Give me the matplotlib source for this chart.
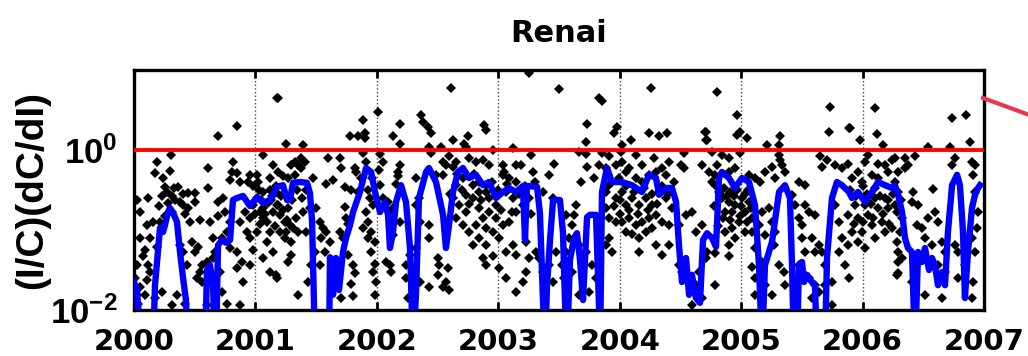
import numpy as np
import matplotlib
matplotlib.use('Agg')
import matplotlib.pyplot as plt
from matplotlib.lines import Line2D
from matplotlib.ticker import NullLocator

station = 'Renai'
years = list(range(2000, 2008))
threshold = 1.0

# smoothed curve: (decimal year, log10 value); -2.5 means below the axis floor
blue_trace = [
    (2000.000, -1.65), (2000.025, -1.75), (2000.058, -2.5), (2000.156, -2.5), (2000.173, -1.69),
    (2000.198, -1.25), (2000.214, -0.975), (2000.239, -1.025), (2000.255, -0.94), (2000.280, -0.775),
    (2000.296, -0.725), (2000.329, -0.81), (2000.354, -0.90), (2000.379, -1.275), (2000.404, -1.60),
    (2000.428, -1.875), (2000.445, -2.5),
    (2000.585, -2.5), (2000.601, -1.50), (2000.626, -1.44), (2000.651, -1.69), (2000.667, -2.5),
    (2000.675, -2.5), (2000.692, -1.19), (2000.725, -1.125), (2000.758, -1.16), (2000.791, -1.125),
    (2000.815, -0.625), (2000.848, -0.60), (2000.898, -0.575), (2000.955, -0.70),
    (2001.013, -0.59), (2001.062, -0.66), (2001.120, -0.625), (2001.178, -0.46), (2001.227, -0.44),
    (2001.260, -0.625), (2001.285, -0.625), (2001.309, -0.41), (2001.367, -0.40), (2001.425, -0.41),
    (2001.449, -0.54), (2001.466, -0.875), (2001.474, -1.375), (2001.491, -2.5),
    (2001.606, -2.5), (2001.614, -1.34), (2001.639, -1.81), (2001.663, -1.35), (2001.688, -1.75),
    (2001.721, -1.275), (2001.746, -1.10), (2001.779, -0.94), (2001.804, -0.775), (2001.861, -0.525),
    (2001.911, -0.225), (2001.952, -0.275), (2001.985, -0.525),
    (2002.026, -0.775), (2002.067, -0.65), (2002.092, -0.81), (2002.108, -1.225), (2002.133, -1.025),
    (2002.158, -0.65), (2002.199, -0.44), (2002.240, -0.65), (2002.273, -1.225), (2002.298, -2.5),
    (2002.322, -1.81), (2002.347, -0.60), (2002.405, -0.275), (2002.429, -0.225), (2002.487, -0.40),
    (2002.545, -0.81), (2002.569, -1.225), (2002.594, -0.94), (2002.627, -0.525), (2002.668, -0.275),
    (2002.709, -0.225), (2002.759, -0.35), (2002.816, -0.31), (2002.874, -0.44), (2002.924, -0.40),
    (2002.981, -0.60),
    (2003.039, -0.525), (2003.088, -0.475), (2003.146, -0.525), (2003.203, -0.45), (2003.220, -1.125),
    (2003.236, -0.45), (2003.319, -0.46), (2003.343, -0.79), (2003.368, -1.875), (2003.385, -2.5),
    (2003.401, -1.71), (2003.426, -1.125), (2003.451, -0.625), (2003.508, -0.625), (2003.533, -1.04),
    (2003.549, -1.875), (2003.566, -2.5), (2003.590, -1.375), (2003.624, -1.10), (2003.648, -1.04),
    (2003.673, -1.375), (2003.698, -1.875), (2003.731, -0.84), (2003.755, -0.81), (2003.805, -0.81),
    (2003.829, -1.94), (2003.838, -2.5), (2003.854, -0.525), (2003.895, -0.225), (2003.936, -0.40),
    (2004.019, -0.40), (2004.101, -0.44), (2004.183, -0.525), (2004.241, -0.31), (2004.299, -0.35),
    (2004.324, -0.56), (2004.381, -0.475), (2004.431, -0.475), (2004.464, -0.65), (2004.488, -1.19),
    (2004.513, -1.65), (2004.546, -1.35), (2004.571, -1.81), (2004.595, -1.56), (2004.628, -1.85),
    (2004.661, -1.91), (2004.686, -1.125), (2004.719, -1.04), (2004.760, -1.10), (2004.793, -1.21),
    (2004.818, -0.35), (2004.842, -0.275), (2004.900, -0.35), (2004.949, -0.475),
    (2005.007, -0.35), (2005.065, -0.40), (2005.114, -0.69), (2005.147, -1.44), (2005.172, -2.5),
    (2005.196, -1.44), (2005.254, -1.15), (2005.312, -0.525), (2005.361, -0.44), (2005.402, -0.60),
    (2005.419, -1.44), (2005.435, -2.5), (2005.460, -2.5), (2005.476, -1.44), (2005.501, -1.40),
    (2005.518, -1.65), (2005.542, -1.56), (2005.583, -1.65), (2005.608, -1.69), (2005.625, -2.5),
    (2005.690, -2.5), (2005.707, -1.35), (2005.748, -0.60), (2005.789, -0.40), (2005.830, -0.44),
    (2005.888, -0.525), (2005.913, -0.60), (2005.962, -0.525),
    (2006.020, -0.65), (2006.078, -0.525), (2006.127, -0.40), (2006.185, -0.44), (2006.242, -0.475),
    (2006.267, -0.44), (2006.292, -0.56), (2006.325, -0.775), (2006.349, -1.10), (2006.374, -1.225),
    (2006.407, -1.275), (2006.432, -2.5), (2006.457, -1.275), (2006.489, -1.40), (2006.514, -1.225),
    (2006.547, -1.50), (2006.572, -1.35), (2006.596, -1.44), (2006.621, -1.69), (2006.654, -1.525),
    (2006.679, -1.69), (2006.703, -1.025), (2006.737, -0.44), (2006.778, -0.31), (2006.802, -0.44),
    (2006.827, -1.025), (2006.843, -1.85), (2006.868, -1.275), (2006.901, -0.725), (2006.926, -0.56),
    (2006.951, -0.475), (2006.967, -0.44),
]

# single estimates: (decimal year, log10 value)
dots = [
    # 2000
    (2001.175, 0.65), (2000.845, 0.30), (2000.689, 0.18), (2000.302, -0.06), (2000.187, -0.15),
    (2000.173, -0.29), (2000.296, -0.26), (2000.242, -0.35), (2000.612, -0.23), (2000.612, -0.48),
    (2000.818, -0.15), (2000.804, -0.27), (2000.845, -0.29), (2000.791, -0.38), (2000.873, -0.40),
    (2000.942, -0.40), (2000.955, -0.31), (2001.010, -0.31), (2001.065, -0.06), (2001.120, -0.35),
    (2000.255, -0.46), (2000.269, -0.52), (2000.365, -0.46), (2000.228, -0.58), (2000.310, -0.58),
    (2000.338, -0.63), (2000.379, -0.65), (2000.406, -0.69), (2000.447, -0.54), (2000.502, -0.54),
    (2000.502, -0.65), (2000.447, -0.73), (2000.310, -0.77), (2000.255, -0.83), (2000.118, -0.60),
    (2000.022, -0.63), (2000.049, -0.77), (2000.159, -0.90), (2000.104, -0.94), (2000.214, -0.90),
    (2000.049, -1.10), (2000.132, -1.10), (2000.187, -1.21), (2000.091, -1.25), (2000.077, -1.33),
    (2000.118, -1.44), (2000.132, -1.52), (2000.104, -1.63), (2000.022, -1.44), (2000.049, -1.71),
    (2000.091, -1.81), (2000.173, -1.85), (2000.228, -1.77), (2000.461, -0.90), (2000.543, -0.88),
    (2000.475, -1.15), (2000.502, -1.27), (2000.530, -1.21), (2000.557, -1.44), (2000.598, -1.40),
    (2000.543, -1.52), (2000.516, -1.60), (2000.557, -1.65), (2000.434, -1.44), (2000.406, -1.27),
    (2000.379, -1.19), (2000.626, -0.90), (2000.653, -1.10), (2000.694, -0.65), (2000.736, -0.60),
    (2000.749, -0.77), (2000.694, -0.83), (2000.791, -0.90), (2000.763, -1.02), (2000.722, -1.10),
    (2000.791, -1.23), (2000.653, -1.35), (2000.667, -1.27), (2000.626, -1.65), (2000.667, -1.81),
    (2000.708, -1.52), (2000.722, -1.77), (2000.845, -1.27), (2000.887, -1.40), (2000.845, -1.48),
    (2000.873, -0.90), (2000.914, -0.77), (2000.928, -1.02), (2000.955, -1.10), (2000.900, -1.65),
    (2000.955, -1.44), (2000.983, -1.25), (2001.010, -1.02), (2001.038, -0.77), (2001.065, -0.73),
    (2001.092, -0.90), (2001.120, -1.02), (2001.147, -0.77), (2001.175, -0.69), (2001.065, -0.52),
    (2001.010, -0.60), (2000.983, -0.69), (2000.955, -0.85), (2001.092, -1.15), (2001.147, -1.27),
    (2001.065, -1.35), (2001.120, -1.52), (2001.175, -1.60), (2000.310, -1.94), (2000.351, -1.81),
    (2000.420, -1.92), (2000.598, -1.94), (2000.763, -1.92), (2000.873, -1.94), (2000.022, -1.81),
    (2000.008, -1.60), (2000.036, -1.92), (2000.980, -0.45), (2001.030, -0.50), (2001.050, -0.62),
    (2001.100, -0.66), (2001.120, -0.50), (2001.000, -0.80), (2001.040, -0.92), (2001.080, -0.80),
    (2001.140, -0.58), (2001.160, -0.95), (2000.210, -0.70), (2000.280, -0.66), (2000.330, -0.48),
    (2000.400, -0.55), (2000.420, -0.80),
    # 2001
    (2001.186, 0.65), (2001.886, 0.38), (2002.010, 0.48), (2002.188, 0.32), (2001.776, 0.18),
    (2001.845, 0.17), (2001.900, 0.21), (2001.900, 0.15), (2002.133, 0.17), (2002.188, 0.08),
    (2001.255, 0.07), (2001.392, 0.06), (2001.886, -0.04), (2002.023, -0.05), (2001.145, -0.19),
    (2001.186, -0.27), (2001.227, -0.33), (2001.296, -0.19), (2001.323, -0.15), (2001.378, -0.10),
    (2001.351, -0.19), (2001.406, -0.15), (2001.378, -0.23), (2001.323, -0.31), (2001.269, -0.35),
    (2001.474, -0.35), (2001.584, -0.42), (2001.639, -0.38), (2001.694, -0.10), (2001.598, -0.10),
    (2001.708, -0.23), (2001.735, -0.46), (2001.818, -0.23), (2001.831, -0.27), (2001.790, -0.50),
    (2001.845, -0.52), (2001.927, -0.50), (2001.941, -0.60), (2002.023, -0.44), (2002.051, -0.60),
    (2001.969, -0.69), (2002.092, -0.65), (2002.106, -0.77), (2002.133, -0.73), (2002.174, -0.27),
    (2002.188, -0.19), (2002.174, -0.33), (2002.325, -0.35), (2001.172, -0.52), (2001.186, -0.69),
    (2001.200, -0.81), (2001.241, -0.90), (2001.269, -0.73), (2001.282, -0.94), (2001.255, -1.02),
    (2001.200, -1.02), (2001.241, -1.10), (2001.296, -1.15), (2001.337, -0.85), (2001.351, -1.02),
    (2001.420, -1.02), (2001.392, -0.77), (2001.447, -0.73), (2001.502, -0.73), (2001.529, -0.90),
    (2001.557, -0.98), (2001.543, -1.10), (2001.584, -1.02), (2001.612, -1.15), (2001.570, -1.27),
    (2001.488, -1.27), (2001.461, -1.44), (2001.529, -1.44), (2001.296, -1.31), (2001.269, -1.40),
    (2001.172, -1.56), (2001.351, -1.81), (2001.433, -1.65), (2001.694, -1.02), (2001.721, -1.10),
    (2001.749, -0.85), (2001.735, -0.71), (2001.763, -0.92), (2001.763, -1.31), (2001.804, -1.44),
    (2001.818, -1.54), (2001.790, -1.67), (2001.804, -1.83), (2001.708, -1.85), (2001.914, -0.77),
    (2001.927, -0.90), (2001.886, -0.98), (2001.955, -1.02), (2001.927, -1.10), (2001.982, -1.15),
    (2001.955, -1.27), (2001.982, -1.42), (2001.969, -1.52), (2001.996, -1.65), (2001.982, -1.81),
    (2002.078, -1.40), (2002.106, -1.44), (2002.120, -1.52), (2002.133, -1.06), (2002.188, -0.90),
    (2002.243, -1.44), (2002.243, -1.60), (2002.270, -1.31), (2002.325, -0.69), (2002.353, -0.90),
    (2002.325, -1.23), (2002.353, -1.65), (2002.257, -1.85), (2001.020, -0.40), (2001.060, -0.85),
    (2001.130, -0.62), (2001.170, -0.45), (2001.210, -0.58), (2001.230, -0.75), (2001.300, -0.62),
    (2001.340, -0.50), (2001.380, -0.60), (2001.420, -0.50), (2001.260, -0.88), (2001.310, -0.98),
    (2001.870, -0.35), (2001.910, -0.15), (2001.960, -0.35), (2002.020, -0.25), (2002.050, -0.15),
    (2002.160, -0.42),
    # 2002
    (2002.610, 0.78), (2003.255, 0.96), (2003.502, 0.76), (2002.363, 0.44), (2002.377, 0.35),
    (2002.418, 0.29), (2002.446, 0.21), (2002.885, 0.31), (2002.898, 0.25), (2002.747, 0.17),
    (2002.624, 0.13), (2002.432, 0.04), (2002.528, 0.04), (2002.720, 0.07), (2002.734, 0.04),
    (2002.953, 0.00), (2003.118, 0.03), (2003.269, -0.06), (2003.461, -0.17), (2002.446, -0.04),
    (2002.597, -0.08), (2002.651, -0.15), (2002.542, -0.15), (2002.569, -0.19), (2002.624, -0.21),
    (2002.761, -0.10), (2002.816, -0.15), (2002.871, -0.13), (2002.926, -0.19), (2003.036, -0.19),
    (2003.146, -0.19), (2003.187, -0.19), (2003.049, -0.27), (2003.283, -0.27), (2003.365, -0.52),
    (2003.420, -0.31), (2003.447, -0.60), (2002.349, -0.60), (2002.487, -0.31), (2002.542, -0.31),
    (2002.706, -0.35), (2002.651, -0.44), (2002.789, -0.44), (2002.844, -0.40), (2002.898, -0.44),
    (2002.734, -0.56), (2002.789, -0.60), (2002.844, -0.52), (2002.926, -0.60), (2002.981, -0.69),
    (2003.036, -0.31), (2003.091, -0.35), (2003.146, -0.40), (2003.063, -0.52), (2003.118, -0.60),
    (2003.200, -0.69), (2003.255, -0.60), (2003.146, -0.77), (2003.091, -0.90), (2003.036, -0.94),
    (2002.981, -0.85), (2002.926, -0.77), (2002.871, -0.85), (2002.816, -0.94), (2002.761, -1.02),
    (2002.706, -0.94), (2002.651, -0.85), (2002.679, -0.69), (2002.624, -0.60), (2002.734, -0.77),
    (2002.844, -0.73), (2002.898, -0.98), (2002.953, -1.02), (2003.008, -1.10), (2002.844, -1.10),
    (2002.789, -1.19), (2002.871, -1.35), (2003.008, -1.48), (2002.898, -1.44), (2003.063, -1.27),
    (2003.146, -1.31), (2003.118, -1.19), (2003.228, -1.15), (2003.255, -1.35), (2003.228, -1.52),
    (2003.200, -1.65), (2003.310, -1.27), (2003.338, -1.35), (2003.365, -1.52), (2003.420, -1.44),
    (2003.475, -1.27), (2003.447, -1.65), (2002.432, -0.94), (2002.432, -1.10), (2002.500, -1.35),
    (2002.514, -1.44), (2002.583, -1.48), (2002.500, -1.56), (2002.569, -1.65), (2002.597, -1.75),
    (2002.542, -1.71), (2002.432, -1.71), (2002.953, -1.33), (2002.898, -1.19), (2003.063, -1.60),
    (2003.146, -1.77), (2002.700, -0.50), (2002.760, -0.68), (2002.800, -0.30), (2002.860, -0.62),
    (2002.900, -0.52), (2002.950, -0.40), (2003.000, -0.50), (2003.020, -0.75), (2003.070, -0.42),
    (2003.110, -0.78), (2003.170, -0.55), (2003.220, -0.45), (2003.270, -0.80), (2003.300, -0.40),
    (2002.660, -0.30), (2002.600, -0.55),
    # 2003
    (2004.255, 0.78), (2003.829, 0.65), (2003.857, 0.61), (2003.733, 0.33), (2003.953, 0.21),
    (2003.980, 0.29), (2004.241, 0.21), (2004.324, 0.17), (2004.392, 0.21), (2004.708, 0.23),
    (2003.720, 0.10), (2004.022, 0.06), (2004.090, 0.13), (2004.708, 0.13), (2003.665, -0.03),
    (2003.720, -0.05), (2003.857, -0.04), (2003.912, -0.08), (2004.008, -0.03), (2004.131, -0.06),
    (2004.282, -0.10), (2004.406, -0.15), (2004.529, -0.04), (2004.502, -0.19), (2004.529, -0.23),
    (2004.680, -0.19), (2003.733, -0.21), (2003.678, -0.40), (2003.788, -0.35), (2003.829, -0.19),
    (2003.884, -0.23), (2003.967, -0.19), (2004.022, -0.15), (2004.049, -0.27), (2004.076, -0.23),
    (2004.186, -0.19), (2004.241, -0.31), (2004.296, -0.27), (2004.351, -0.23), (2004.378, -0.31),
    (2004.131, -0.35), (2004.186, -0.40), (2003.994, -0.35), (2003.939, -0.40), (2003.884, -0.52),
    (2003.967, -0.60), (2004.022, -0.52), (2004.049, -0.69), (2004.104, -0.60), (2004.159, -0.69),
    (2004.214, -0.60), (2004.269, -0.69), (2004.324, -0.52), (2004.378, -0.60), (2004.433, -0.73),
    (2004.488, -0.94), (2004.543, -0.81), (2004.598, -0.77), (2004.625, -1.02), (2004.680, -0.94),
    (2003.884, -0.73), (2003.912, -0.85), (2003.967, -0.90), (2004.022, -0.90), (2004.076, -0.85),
    (2004.131, -0.94), (2004.186, -0.90), (2004.241, -0.85), (2004.296, -0.81), (2004.351, -0.90),
    (2004.406, -0.94), (2004.269, -0.98), (2004.214, -1.02), (2004.049, -1.02), (2003.912, -1.10),
    (2003.884, -1.19), (2003.939, -1.27), (2004.159, -1.10), (2004.159, -1.27), (2004.296, -1.19),
    (2004.351, -1.31), (2004.406, -1.19), (2004.488, -1.44), (2004.516, -1.52), (2004.571, -1.60),
    (2004.625, -1.69), (2004.653, -1.52), (2004.708, -1.35), (2003.637, -0.69), (2003.624, -0.81),
    (2003.610, -0.94), (2003.555, -0.81), (2003.582, -1.10), (2003.665, -1.19), (2003.720, -1.27),
    (2003.775, -1.44), (2003.802, -1.60), (2003.747, -1.77), (2003.665, -1.81), (2003.555, -1.27),
    (2003.527, -1.44), (2003.541, -1.60), (2003.610, -1.52), (2004.598, -1.94), (2004.680, -1.85),
    (2003.900, -0.45), (2003.950, -0.70), (2004.000, -0.62), (2004.050, -0.45), (2004.080, -0.75),
    (2004.120, -0.52), (2004.150, -0.80), (2004.200, -0.48), (2004.230, -0.75), (2004.270, -0.55),
    (2004.310, -0.68), (2004.350, -0.45), (2004.400, -0.55), (2004.450, -0.40), (2004.000, -0.80),
    (2004.100, -1.05),
    # 2004
    (2004.802, 0.73), (2005.735, 0.54), (2004.966, 0.44), (2004.966, 0.19), (2004.994, 0.23),
    (2005.049, 0.15), (2004.705, 0.23), (2004.719, 0.13), (2005.323, 0.17), (2005.213, 0.06),
    (2005.309, 0.06), (2005.721, 0.23), (2005.886, 0.27), (2004.760, -0.02), (2004.843, -0.06),
    (2004.898, -0.10), (2004.994, -0.04), (2005.309, -0.06), (2005.323, -0.13), (2005.337, -0.19),
    (2005.254, -0.21), (2005.200, -0.27), (2005.652, -0.08), (2005.666, -0.21), (2005.707, -0.13),
    (2005.776, -0.19), (2005.831, -0.23), (2004.733, -0.27), (2004.802, -0.19), (2004.788, -0.31),
    (2004.898, -0.27), (2004.953, -0.23), (2005.062, -0.31), (2005.117, -0.35), (2005.158, -0.40),
    (2005.282, -0.35), (2005.364, -0.27), (2005.474, -0.40), (2005.529, -0.44), (2004.815, -0.52),
    (2004.843, -0.60), (2004.898, -0.65), (2004.870, -0.77), (2004.925, -0.77), (2004.953, -0.69),
    (2005.007, -0.60), (2005.035, -0.77), (2005.062, -0.65), (2005.090, -0.85), (2004.980, -0.90),
    (2004.925, -0.98), (2004.870, -1.02), (2004.953, -1.10), (2004.898, -1.19), (2005.035, -1.02),
    (2005.090, -1.02), (2005.117, -1.23), (2005.145, -0.94), (2005.172, -0.77), (2005.227, -0.73),
    (2005.254, -0.90), (2005.282, -1.02), (2005.200, -1.06), (2005.419, -0.56), (2005.447, -0.69),
    (2005.474, -0.85), (2005.502, -0.94), (2005.529, -0.69), (2005.556, -0.77), (2005.584, -1.10),
    (2005.611, -0.81), (2005.502, -1.10), (2005.529, -1.27), (2005.611, -1.27), (2005.639, -1.19),
    (2005.666, -1.27), (2005.694, -1.44), (2005.502, -1.52), (2005.474, -1.44), (2005.556, -1.60),
    (2005.611, -1.69), (2005.639, -1.77), (2005.694, -1.69), (2005.584, -1.85), (2005.776, -0.69),
    (2005.803, -0.90), (2005.831, -1.10), (2005.803, -1.27), (2005.858, -1.44), (2005.886, -1.60),
    (2005.749, -1.65), (2004.719, -1.27), (2004.788, -1.29), (2004.788, -1.69), (2004.898, -1.33),
    (2005.090, -1.46), (2005.117, -1.60), (2005.200, -1.69), (2005.254, -1.81), (2005.117, -1.81),
    (2005.309, -1.44), (2005.351, -1.52), (2005.364, -1.69), (2005.268, -1.19), (2005.172, -1.40),
    (2005.749, -1.94), (2004.760, -0.40), (2004.790, -0.45), (2004.830, -0.55), (2004.860, -0.48),
    (2004.880, -0.58), (2004.910, -0.52), (2004.940, -0.57), (2004.970, -0.50), (2005.000, -0.70),
    (2005.030, -0.55), (2005.060, -0.50), (2005.080, -0.72), (2004.850, -0.85), (2004.910, -0.88),
    (2004.990, -0.82), (2005.050, -0.90), (2004.780, -0.70), (2004.810, -0.95),
    # 2006
    (2006.102, 0.52), (2006.733, 0.40), (2006.849, 0.44), (2006.116, 0.20), (2005.896, 0.27),
    (2006.884, 0.10), (2006.171, 0.06), (2006.541, 0.04), (2006.720, 0.04), (2005.979, 0.13),
    (2006.047, -0.06), (2005.882, -0.17), (2006.020, -0.15), (2006.130, -0.17), (2006.184, -0.19),
    (2006.239, -0.13), (2006.267, -0.10), (2006.349, -0.10), (2006.431, -0.08), (2006.377, -0.19),
    (2006.212, -0.27), (2006.294, -0.27), (2005.965, -0.27), (2005.910, -0.35), (2006.075, -0.31),
    (2005.992, -0.40), (2006.130, -0.35), (2006.267, -0.40), (2006.349, -0.23), (2006.733, -0.19),
    (2006.761, -0.10), (2006.898, -0.15), (2006.912, -0.31), (2006.926, -0.19), (2006.418, -0.52),
    (2006.582, -0.49), (2006.294, -0.52), (2006.184, -0.60), (2006.102, -0.60), (2006.020, -0.69),
    (2005.937, -0.69), (2005.882, -0.81), (2005.965, -0.85), (2006.047, -0.81), (2006.130, -0.73),
    (2006.212, -0.73), (2006.267, -0.69), (2006.157, -0.90), (2006.075, -0.94), (2005.992, -1.02),
    (2005.910, -1.02), (2005.882, -1.19), (2005.965, -1.15), (2006.020, -1.23), (2006.102, -1.10),
    (2006.184, -1.02), (2006.239, -0.98), (2006.308, -1.02), (2006.280, -1.15), (2006.322, -0.85),
    (2006.404, -0.65), (2006.459, -0.69), (2006.486, -0.98), (2006.541, -0.85), (2006.596, -0.77),
    (2006.624, -0.90), (2006.445, -0.94), (2006.514, -1.10), (2006.569, -1.19), (2006.651, -1.15),
    (2006.679, -1.27), (2006.624, -1.44), (2006.679, -1.52), (2006.294, -1.27), (2006.294, -1.40),
    (2006.294, -1.54), (2006.280, -1.56), (2006.322, -1.35), (2006.761, -1.19), (2006.788, -1.27),
    (2006.898, -1.10), (2006.926, -1.27), (2006.939, -0.98), (2006.953, -0.77), (2006.926, -0.52),
    (2006.843, -1.44), (2006.788, -1.60), (2006.912, -1.65), (2006.898, -1.85), (2006.514, -1.81),
    (2006.651, -1.85), (2006.404, -1.65), (2005.900, -0.50), (2005.950, -0.58), (2006.000, -0.45),
    (2006.040, -0.55), (2006.070, -0.68), (2006.100, -0.48), (2006.140, -0.58), (2006.170, -0.80),
    (2006.210, -0.62), (2006.250, -0.55), (2006.280, -0.78), (2006.320, -0.62), (2006.000, -0.90),
    (2006.090, -0.85), (2005.930, -0.92), (2006.220, -0.92),
]

plt.rcParams['mathtext.fontset'] = 'custom'
plt.rcParams['mathtext.rm'] = 'Liberation Sans:bold'
plt.rcParams['mathtext.it'] = 'Liberation Sans:bold'
plt.rcParams['mathtext.bf'] = 'Liberation Sans:bold'

fig = plt.figure(figsize=(10.28, 3.56), dpi=100)
ax = fig.add_axes([134 / 1028, 46 / 356, 850 / 1028, 240 / 356])

dot_x, dot_l = np.array(dots).T
ax.plot(dot_x, 10 ** dot_l, 'D', color='k', ms=4.8, mew=0, zorder=2)

blue_x, blue_l = np.array(blue_trace).T
ax.plot(blue_x, 10 ** blue_l, color='#0000ff', lw=4.6, solid_joinstyle='round', zorder=3)

ax.axhline(threshold, color='#ff0000', lw=2.8, zorder=4)

ax.set_yscale('log')
ax.set_ylim(1e-2, 1e1)
ax.set_xlim(years[0], years[-1])
ax.set_yticks([1e-2, 1e0])
ax.set_yticklabels([r'$10^{-2}$', r'$10^{0}$'])
ax.yaxis.set_minor_locator(NullLocator())
ax.set_xticks(years)
ax.set_xticklabels([str(y) for y in years], fontfamily='DejaVu Sans',
                   fontweight='bold', fontsize=21)
ax.tick_params(axis='x', direction='in', length=6, width=2, top=True, pad=13)
ax.tick_params(axis='y', direction='in', length=0, labelsize=25, pad=12)
for sp in ax.spines.values():
    sp.set_linewidth(2.4)
ax.grid(axis='x', linestyle=':', color='#444444', lw=1.0)

ax.set_title(station, fontfamily='DejaVu Sans', fontweight='bold', fontsize=22, pad=20)
ax.set_ylabel('(I/C)(dC/dI)', fontfamily='Liberation Sans', fontweight='bold', fontsize=28)
ax.yaxis.set_label_coords(-0.0985, 0.5)

# pointer stroke leaving the panel at the upper right
fig.add_artist(Line2D([983 / 1028, 1.02], [1 - 98 / 356, 1 - 122 / 356],
                      transform=fig.transFigure, color='#e23a4e', lw=3))

fig.savefig('out.png', dpi=100)
